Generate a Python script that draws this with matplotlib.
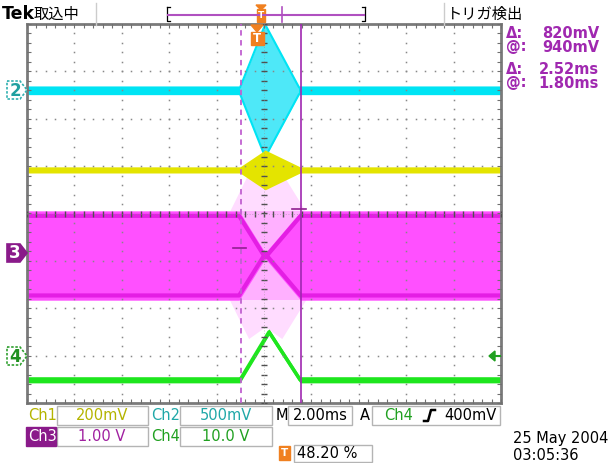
import numpy as np
import matplotlib
matplotlib.use('Agg')
import matplotlib.pyplot as plt
from matplotlib.patches import Polygon, Rectangle

plt.rcParams['font.family'] = ['DejaVu Sans', 'Noto Sans CJK JP']

# ---------------- data (time in ms relative to trigger, vertical in divisions) -------------
x_range = [-9.75, 10.25]          # 2.00 ms/div, 10 divisions
y_range = [-4.0, 4.0]

ch2_base = 2.59
ch2_t = [-9.75, -0.76, 0.30, 1.73, 10.25]
ch2_half = [0.07, 0.07, 1.40, 0.07, 0.07]

ch1_base = 0.92
ch1_t = [-9.75, -0.76, 0.30, 1.77, 10.25]
ch1_half = [0.065, 0.065, 0.42, 0.065, 0.065]

ch3_base = -0.89
ch3_t = [-9.75, -0.80, 0.30, 1.80, 10.25]
ch3_half = [0.94, 0.94, 0.06, 0.94, 0.94]
ch3_spike_t = [-1.2, -0.4, 0.3, 1.0, 2.0]
ch3_spike_half = [0.94, 1.75, 1.5, 1.75, 0.94]

ch4_t = [-9.75, -0.76, 0.46, 1.77, 10.25]
ch4_v = [-3.51, -3.51, -2.50, -3.51, -3.51]
ch4_half = 0.065

cursor_t = [-0.72, 1.80]
hbar_marks = [([-1.05, -0.51], -0.726), ([1.43, 2.03], 0.097)]

ch_labels = ['Ch1', 'Ch2', 'Ch3', 'Ch4']
ch_scales = ['200mV', '500mV', '1.00 V', '10.0 V']
timebase = '2.00ms'
trig_text = ['Ch4', '400mV']
trig_pos = '48.20 %'
readouts = [('Δ:', '820mV'), ('@:', '940mV'), ('Δ:', '2.52ms'), ('@:', '1.80ms')]
date_lines = ['25 May 2004', '03:05:36']

# ---------------- colours ----------------
C_CYAN = '#00e4f4'
C_CYAN_F = '#4ee8f8'
C_YEL = '#e4e400'
C_MAG = '#ff50ff'
C_MAG_L = '#ffb0ff'
C_MAG_D = '#e41ee4'
C_GRN = '#1ee61e'
C_PUR = '#a028b0'
C_ORG = '#f08020'

W, H = 611, 463
fig = plt.figure(figsize=(W / 100, H / 100), dpi=100)
fig.patch.set_facecolor('white')
L, R, T, B = 27, 501, 24, 403
ax = fig.add_axes([L / W, 1 - B / H, (R - L) / W, (B - T) / H])
ax.set_xlim(*x_range)
ax.set_ylim(*y_range)
ax.set_xticks([])
ax.set_yticks([])
for s in ax.spines.values():
    s.set_color('#7a7a7a')
    s.set_linewidth(2)

x0 = x_range[0]
# ---- traces ----
t2 = np.array(ch2_t); h2 = np.array(ch2_half)
ax.fill_between(t2, ch2_base - h2, ch2_base + h2, color=C_CYAN_F, lw=0, zorder=2)
ax.plot(t2, ch2_base + h2, color=C_CYAN, lw=1.5, zorder=2)
ax.plot(t2, ch2_base - h2, color=C_CYAN, lw=1.5, zorder=2)
ax.fill_between([x0, ch2_t[1]], ch2_base - 0.07, ch2_base + 0.07, color=C_CYAN, lw=0, zorder=2)
ax.fill_between([ch2_t[3], x_range[1]], ch2_base - 0.07, ch2_base + 0.07, color=C_CYAN, lw=0, zorder=2)

t1 = np.array(ch1_t); h1 = np.array(ch1_half)
ax.fill_between(t1, ch1_base - h1, ch1_base + h1, color=C_YEL, lw=0, zorder=2)

t3 = np.array(ch3_t); h3 = np.array(ch3_half)
ax.fill_between(ch3_spike_t, ch3_base - np.array(ch3_spike_half), ch3_base + np.array(ch3_spike_half),
                color='#ffdcff', lw=0, zorder=1)
ax.fill_between([x0, x_range[1]], ch3_base - 0.94, ch3_base + 0.94, color=C_MAG_L, lw=0, zorder=1.5)
ax.fill_between(t3, ch3_base - h3, ch3_base + h3, color=C_MAG, lw=0, zorder=2)
ax.plot(t3, ch3_base + h3 - 0.1, color=C_MAG_D, lw=3, zorder=2)
ax.plot(t3, ch3_base - h3 + 0.1, color=C_MAG_D, lw=3, zorder=2)

t4 = np.array(ch4_t); v4 = np.array(ch4_v)
ax.fill_between(t4, v4 - ch4_half, v4 + ch4_half, color=C_GRN, lw=0, zorder=2)
ax.plot(t4, v4, color=C_GRN, lw=2.5, zorder=2)

# ---- graticule ----
xs_dots = np.arange(x0, x_range[1] + 1e-6, 0.4)
ys_dots = np.arange(-4, 4.0001, 0.2)
for k in range(1, 10):
    if k == 5:
        continue
    xx = x0 + 2 * k
    ax.plot(np.full_like(ys_dots, xx), ys_dots, ls='none', marker='s', ms=1.1,
            color='#888888', mew=0, zorder=5)
for yy in [-3, -2, -1, 1, 2, 3]:
    ax.plot(xs_dots, np.full_like(xs_dots, yy), ls='none', marker='s', ms=1.1,
            color='#888888', mew=0, zorder=5)
xc = x0 + 10
ax.plot(np.full_like(ys_dots, xc), ys_dots, ls='none', marker='_', ms=5, mew=1,
        color='#505050', zorder=5)
ax.plot(xs_dots, np.zeros_like(xs_dots), ls='none', marker='|', ms=5, mew=1,
        color='#505050', zorder=5)
ax.axvline(xc, color='#909090', lw=0.5, ls=(0, (1, 3)), zorder=5)
ax.axhline(0, color='#909090', lw=0.5, ls=(0, (1, 3)), zorder=5)
for xb in x_range:
    ax.plot(np.full_like(ys_dots, xb), ys_dots, ls='none', marker='_', ms=6, mew=0.8,
            color='#707070', zorder=5)
for yb in y_range:
    ax.plot(xs_dots, np.full_like(xs_dots, yb), ls='none', marker='|', ms=6, mew=0.8,
            color='#707070', zorder=5)

# ---- cursors ----
ax.axvline(cursor_t[0], color='#c060d0', lw=1.3, ls=(0, (3, 2.5)), zorder=6)
ax.axvline(cursor_t[1], color=C_PUR, lw=1.2, zorder=6)
for (xx, yy) in hbar_marks:
    ax.plot(xx, [yy, yy], color='#902090', lw=1.2, zorder=6)

# ---------------- overlay (pixel coordinates) ----------------
ov = fig.add_axes([0, 0, 1, 1], zorder=10)
ov.set_xlim(0, W)
ov.set_ylim(H, 0)
ov.axis('off')
ov.patch.set_visible(False)

# top bar
ov.text(2, 14, 'Tek', fontsize=12.5, fontweight='bold', va='center', ha='left', color='black')
ov.text(34, 14, '取込中', fontsize=11, va='center', ha='left', family=['Noto Sans CJK JP'])
ov.text(447, 14, 'トリガ検出', fontsize=11, va='center', ha='left', family=['Noto Sans CJK JP'])
for xs in (96, 444):
    ov.plot([xs, xs], [3, 25], color='#cccccc', lw=1)
ov.plot([167, 167, 170], [7, 21, 21], color='black', lw=0.9)
ov.plot([167, 170], [7, 7], color='black', lw=0.9)
ov.plot([365, 365, 362], [7, 21, 21], color='black', lw=0.9)
ov.plot([365, 362], [7, 7], color='black', lw=0.9)
ov.plot([168, 364], [15, 15], color='#b050c0', lw=1.5)
ov.plot([282, 282], [7, 22], color='#b050c0', lw=1.2)
ov.add_patch(Polygon([[256, 5], [266, 5], [261, 10]], closed=True, color=C_ORG))
ov.add_patch(Rectangle((257, 9), 8, 13, color=C_ORG))
ov.text(261, 16, 'T', fontsize=6.5, color='white', fontweight='bold', ha='center', va='center')

# trigger marker on graticule top
ov.add_patch(Polygon([[251, 25], [263, 25], [257, 32]], closed=True, color=C_ORG, zorder=3))
ov.add_patch(Rectangle((250.5, 32), 13, 13, color=C_ORG, zorder=3))
ov.text(257, 38.8, 'T', fontsize=8.5, color='white', fontweight='bold', ha='center', va='center')

# channel markers (left)
def marker(yc, label, edge, face, tcol):
    pts = [[7, yc - 9], [20, yc - 9], [27, yc], [20, yc + 9], [7, yc + 9]]
    ov.add_patch(Polygon(pts, closed=True, facecolor=face, edgecolor=edge, lw=1.2,
                         ls=(0, (1.5, 1)) if face == 'white' else '-'))
    ov.text(15, yc + 0.5, label, fontsize=12, fontweight='bold', color=tcol,
            ha='center', va='center')

marker(90, '2', '#30b0b0', 'white', '#20a0a0')
marker(253, '3', '#8a1a8a', '#8a1a8a', 'white')
marker(356, '4', '#30a030', 'white', '#209020')

# trigger level arrow (right)
ov.add_patch(Polygon([[489, 356], [495, 351], [495, 361]], closed=True, color='#20a020'))
ov.plot([494, 500], [356, 356], color='#20a020', lw=1.5)

# cursor readouts
ry = [33, 47, 69, 83]
for (lab, val), yy in zip(readouts, ry):
    ov.text(506, yy, lab, fontsize=10.5, fontweight='bold', color=C_PUR, ha='left', va='center')
    ov.text(599, yy, val, fontsize=10.5, fontweight='bold', color=C_PUR, ha='right', va='center')

# bottom info boxes
def box(x1, x2, y1, y2):
    ov.add_patch(Rectangle((x1, y1), x2 - x1, y2 - y1, fill=False, ec='#b4b4b4', lw=1))

FS = 10.5
box(57, 148, 406, 425)
box(180, 272, 406, 425)
box(288, 352, 406, 425)
box(372, 500, 406, 425)
box(57, 148, 427, 446)
box(180, 272, 427, 446)
box(294, 372, 445, 462)
ov.text(28, 415.5, ch_labels[0], fontsize=FS, color='#b4b400', va='center', ha='left')
ov.text(102, 415.5, ch_scales[0], fontsize=FS, color='#b4b400', va='center', ha='center')
ov.text(151, 415.5, ch_labels[1], fontsize=FS, color='#20a8a8', va='center', ha='left')
ov.text(226, 415.5, ch_scales[1], fontsize=FS, color='#20a8a8', va='center', ha='center')
ov.text(276, 415.5, 'M', fontsize=FS, color='black', va='center', ha='left')
ov.text(320, 415.5, timebase, fontsize=FS, color='black', va='center', ha='center')
ov.text(360, 415.5, 'A', fontsize=FS, color='black', va='center', ha='left')
ov.text(384, 415.5, trig_text[0], fontsize=FS, color='#20a020', va='center', ha='left')
ov.plot([424, 428, 431, 435], [421, 421, 410, 410], color='black', lw=1.8)
ov.text(497, 415.5, trig_text[1], fontsize=FS, color='black', va='center', ha='right')
ov.add_patch(Rectangle((26, 427), 30, 19, color='#8a1a8a'))
ov.text(28, 436.5, ch_labels[2], fontsize=FS, color='white', va='center', ha='left')
ov.text(102, 436.5, ch_scales[2], fontsize=FS, color='#a020a0', va='center', ha='center')
ov.text(151, 436.5, ch_labels[3], fontsize=FS, color='#20a020', va='center', ha='left')
ov.text(226, 436.5, ch_scales[3], fontsize=FS, color='#20a020', va='center', ha='center')
ov.add_patch(Rectangle((279, 446), 11, 14, color=C_ORG))
ov.text(284.5, 453.5, 'T', fontsize=7.5, color='white', fontweight='bold', ha='center', va='center')
ov.text(297, 453.5, trig_pos, fontsize=FS, color='black', va='center', ha='left')
ov.text(513, 438, date_lines[0], fontsize=FS, color='black', va='center', ha='left')
ov.text(513, 455, date_lines[1], fontsize=FS, color='black', va='center', ha='left')

fig.savefig('out.png', dpi=100, facecolor='white')
